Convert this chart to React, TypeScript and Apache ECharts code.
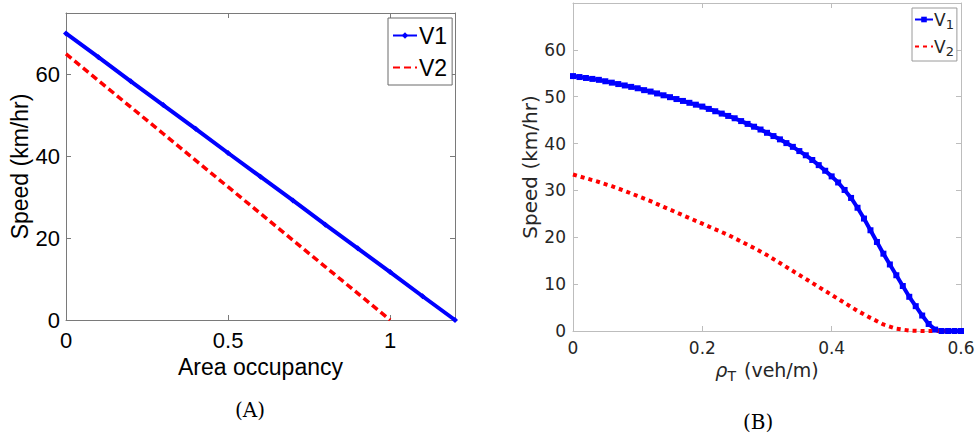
import React, { useEffect, useRef } from "react";
import * as echarts from "echarts";

// ---- Panel A data ----
const aX = [0, 0.1, 0.2, 0.3, 0.4, 0.5, 0.6, 0.7, 0.8, 0.9, 1.0, 1.1, 1.2];
const aV1 = [70, 64.2, 58.3, 52.5, 46.7, 40.8, 35.0, 29.2, 23.3, 17.5, 11.7, 5.8, 0];
const aX2 = [0, 0.1, 0.2, 0.3, 0.4, 0.5, 0.6, 0.7, 0.8, 0.9, 1.0];
const aV2 = [65, 58.5, 52, 45.5, 39, 32.5, 26, 19.5, 13, 6.5, 0];
const aXTicks = [0, 0.5, 1];
const aYTicks = [0, 20, 40, 60];

// ---- Panel B data (rho_T sampled every 0.01 for V1, every 0.02 for V2) ----
const bStep1 = 0.01;
const bV1 = [
  54.4, 54.2, 54.0, 53.8, 53.6, 53.3, 53.0, 52.7, 52.4, 52.1,
  51.8, 51.4, 51.1, 50.7, 50.3, 49.9, 49.5, 49.1, 48.7, 48.3,
  47.9, 47.4, 46.9, 46.4, 45.9, 45.4, 44.8, 44.2, 43.6, 43.0,
  42.3, 41.6, 40.9, 40.1, 39.3, 38.4, 37.5, 36.5, 35.4, 34.2,
  33.0, 31.7, 30.1, 28.4, 26.3, 24.0, 21.5, 19.0, 16.5, 14.2,
  11.9, 9.6, 7.3, 5.3, 3.3, 1.5, 0.3, 0, 0, 0, 0,
];
const bStep2 = 0.02;
const bV2 = [
  33.4, 32.6, 31.8, 30.9, 29.9, 28.8, 27.7, 26.5, 25.3, 24.1,
  22.9, 21.7, 20.5, 19.1, 17.7, 16.2, 14.5, 12.8, 11.1, 9.4,
  7.7, 6.0, 4.3, 2.8, 1.4, 0.5, 0.1, 0, 0, 0, 0,
];
const bXTicks = [0, 0.2, 0.4, 0.6];
const bYTicks = [0, 10, 20, 30, 40, 50, 60];

const fontA = "Liberation Sans, Arial, sans-serif";
const fontB = "DejaVu Sans, sans-serif";

function fmtTicks(ticks: number[]) {
  return (v: number) =>
    ticks.some((t) => Math.abs(t - v) < 1e-9) ? String(+v.toFixed(2)) : "";
}

export default function App() {
  const ref = useRef<HTMLDivElement>(null);
  useEffect(() => {
    if (!ref.current) return;
    const chart = echarts.init(ref.current, null, { renderer: "svg" });

    const axA = "#7a7a7a";
    const axB = "#bdbdbd";
    const txtB = "#262626";

    const gridA = { left: 66, top: 13, width: 389, height: 307 };
    const gridB = { left: 573, top: 3, width: 388, height: 328 };

    const baseAxis = (color: string) => ({
      axisLine: { show: true, onZero: false, lineStyle: { color, width: 1 } },
      axisTick: { show: true, inside: true, length: 5, lineStyle: { color } },
      splitLine: { show: false },
    });

    const option: any = {
      animation: false,
      grid: [
        { ...gridA, containLabel: false },
        { ...gridB, containLabel: false },
      ],
      xAxis: [
        {
          type: "value", gridIndex: 0, min: 0, max: 1.2, interval: 0.5,
          ...baseAxis(axA),
          axisLabel: { fontFamily: fontA, fontSize: 22, color: "#000", margin: 9, formatter: fmtTicks(aXTicks) },
          name: "Area occupancy", nameLocation: "middle", nameGap: 32,
          nameTextStyle: { fontFamily: fontA, fontSize: 23, color: "#000" },
        },
        {
          type: "value", gridIndex: 0, min: 0, max: 1.2, interval: 0.5, position: "top",
          ...baseAxis(axA),
          axisLabel: { show: false },
        },
        {
          type: "value", gridIndex: 1, min: 0, max: 0.6, interval: 0.2,
          ...baseAxis(axB),
          axisLabel: { fontFamily: fontB, fontSize: 17, color: txtB, margin: 8, formatter: fmtTicks(bXTicks) },
          name: "{rho|ρ}{sub|T} (veh/m)", nameLocation: "middle", nameGap: 26,
          nameTextStyle: {
            fontFamily: fontB, fontSize: 19, color: txtB,
            rich: {
              rho: { fontFamily: fontB, fontSize: 19, fontStyle: "italic", color: txtB },
              sub: { fontFamily: fontB, fontSize: 14, color: txtB, padding: [12, 2, 0, 0] },
            },
          },
        },
        {
          type: "value", gridIndex: 1, min: 0, max: 0.6, interval: 0.2, position: "top",
          ...baseAxis(axB),
          axisLabel: { show: false },
        },
      ],
      yAxis: [
        {
          type: "value", gridIndex: 0, min: 0, max: 75, interval: 20,
          ...baseAxis(axA),
          axisLabel: { fontFamily: fontA, fontSize: 22, color: "#000", margin: 6, formatter: fmtTicks(aYTicks) },
          name: "Speed (km/hr)", nameLocation: "middle", nameGap: 34, nameRotate: 90,
          nameTextStyle: { fontFamily: fontA, fontSize: 23, color: "#000" },
        },
        {
          type: "value", gridIndex: 0, min: 0, max: 75, interval: 20, position: "right",
          ...baseAxis(axA),
          axisLabel: { show: false },
        },
        {
          type: "value", gridIndex: 1, min: 0, max: 70, interval: 10,
          ...baseAxis(axB),
          axisLabel: { fontFamily: fontB, fontSize: 17, color: txtB, margin: 7, formatter: fmtTicks(bYTicks) },
          name: "Speed (km/hr)", nameLocation: "middle", nameGap: 32, nameRotate: 90,
          nameTextStyle: { fontFamily: fontB, fontSize: 20, color: txtB },
        },
        {
          type: "value", gridIndex: 1, min: 0, max: 70, interval: 10, position: "right",
          ...baseAxis(axB),
          axisLabel: { show: false },
        },
      ],
      legend: [
        {
          orient: "vertical", left: 388, top: 18,
          data: [
            { name: "V1", itemStyle: { opacity: 1 } },
            { name: "V2", itemStyle: { opacity: 0 } },
          ],
          backgroundColor: "#fff", borderColor: "#6b6b6b", borderWidth: 1,
          padding: [6, 5, 6, 4], itemGap: 9, itemWidth: 24, itemHeight: 8,
          textStyle: { fontFamily: fontA, fontSize: 23, color: "#000", padding: [0, 0, 0, -3] },
        },
        {
          orient: "vertical", left: 912, top: 8,
          data: [
            { name: "V₁", itemStyle: { opacity: 1 } },
            { name: "V₂", itemStyle: { opacity: 0 } },
          ],
          backgroundColor: "#fff", borderColor: "#9a9a9a", borderWidth: 1,
          padding: [3, 3, 3, 2], itemGap: 7, itemWidth: 18, itemHeight: 7,
          formatter: (n: string) => (n === "V₁" ? "V{sub|1}" : "V{sub|2}"),
          textStyle: {
            fontFamily: fontB, fontSize: 17, color: txtB, padding: [0, 0, 0, -4],
            rich: { sub: { fontFamily: fontB, fontSize: 13, color: txtB, padding: [10, 0, 0, 0] } },
          },
        },
      ],
      series: [
        {
          name: "V1", type: "line", xAxisIndex: 0, yAxisIndex: 0,
          data: aX.map((x, i) => [x, aV1[i]]),
          lineStyle: { color: "#0000ff", width: 4 },
          itemStyle: { color: "#0000ff" },
          symbol: "diamond", symbolSize: 6, showSymbol: true,
        },
        {
          name: "V2", type: "line", xAxisIndex: 0, yAxisIndex: 0,
          data: aX2.map((x, i) => [x, aV2[i]]),
          lineStyle: { color: "#ff0000", width: 3.5, type: [7, 4] },
          itemStyle: { color: "#ff0000" },
          symbol: "none",
        },
        {
          name: "V₁", type: "line", xAxisIndex: 2, yAxisIndex: 2,
          data: bV1.map((v, i) => [+(i * bStep1).toFixed(2), v]),
          lineStyle: { color: "#0000ff", width: 4 },
          itemStyle: { color: "#0000ff" },
          symbol: "rect", symbolSize: 6, showSymbol: true,
        },
        {
          name: "V₂", type: "line", xAxisIndex: 2, yAxisIndex: 2,
          data: bV2.map((v, i) => [+(i * bStep2).toFixed(2), v]),
          lineStyle: { color: "#ff0000", width: 4, type: [4, 4] },
          itemStyle: { color: "#ff0000" },
          symbol: "none",
        },
      ],
      graphic: [
        {
          type: "text", left: 235, top: 400,
          style: { text: "(A)", fontFamily: "DejaVu Serif, Liberation Serif, serif", fontSize: 20, fill: "#000" },
        },
        {
          type: "text", left: 743, top: 412,
          style: { text: "(B)", fontFamily: "DejaVu Serif, Liberation Serif, serif", fontSize: 20, fill: "#000" },
        },
      ],
    };
    chart.setOption(option);
    return () => chart.dispose();
  }, []);
  return (
    <div
      ref={ref}
      style={{ position: "absolute", left: 0, top: 0, width: 978, height: 439, background: "#fff" }}
    />
  );
}
